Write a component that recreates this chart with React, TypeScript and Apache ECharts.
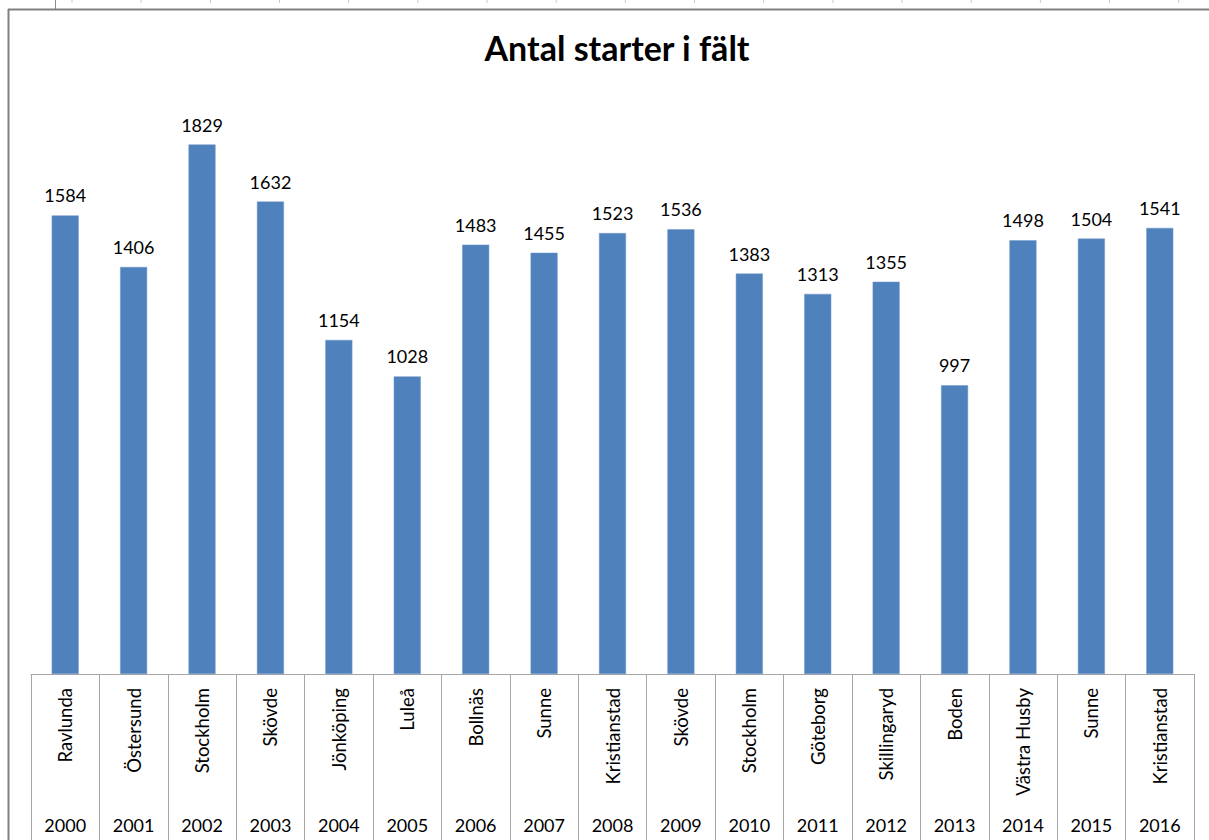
import React, { useEffect, useRef } from "react";
import * as echarts from "echarts";

const cities = [
  "Ravlunda", "Östersund", "Stockholm", "Skövde", "Jönköping", "Luleå", "Bollnäs", "Sunne",
  "Kristianstad", "Skövde", "Stockholm", "Göteborg", "Skillingaryd", "Boden", "Västra Husby", "Sunne", "Kristianstad",
];
const years = [
  "2000", "2001", "2002", "2003", "2004", "2005", "2006", "2007", "2008",
  "2009", "2010", "2011", "2012", "2013", "2014", "2015", "2016",
];
const starts = [1584, 1406, 1829, 1632, 1154, 1028, 1483, 1455, 1523, 1536, 1383, 1313, 1355, 997, 1498, 1504, 1541];
const titleText = "Antal starter i fält";

const FONT = "Lato, 'Open Sans', sans-serif";

export default function App() {
  const ref = useRef<HTMLDivElement>(null);
  useEffect(() => {
    if (!ref.current) return;
    const chart = echarts.init(ref.current, undefined, { renderer: "svg" });
    const gridTicks: any[] = [];
    for (let i = 0; i < 17; i++) {
      const x = 72 + i * 69.17;
      gridTicks.push({
        type: "line",
        shape: { x1: x, y1: 0, x2: x, y2: 3 },
        style: { stroke: "#c8c8c8", lineWidth: 1 },
        silent: true,
      });
    }
    chart.setOption({
      animation: false,
      backgroundColor: "#ffffff",
      textStyle: { fontFamily: FONT },
      title: {
        text: titleText,
        left: 612,
        top: 25,
        textAlign: "center",
        textStyle: { fontFamily: FONT, fontSize: 34, fontWeight: "bold", color: "#000000" },
      },
      grid: { left: 31, right: 15, top: 95, bottom: 166, containLabel: false },
      xAxis: [
        {
          type: "category",
          data: cities,
          position: "bottom",
          axisLine: { show: true, lineStyle: { color: "#a6a6a6", width: 1 } },
          axisTick: { show: true, interval: 0, length: 175, lineStyle: { color: "#a6a6a6", width: 1 } },
          axisLabel: { interval: 0, rotate: 90, margin: 14, fontSize: 18.5, color: "#000000", fontFamily: FONT },
        },
        {
          type: "category",
          data: years,
          position: "bottom",
          offset: 0,
          axisLine: { show: false },
          axisTick: { show: false },
          axisLabel: { interval: 0, margin: 142, fontSize: 18, color: "#000000", fontFamily: FONT },
        },
      ],
      yAxis: { type: "value", min: 0, max: 2000, show: false, splitLine: { show: false } },
      series: [
        {
          type: "bar",
          data: starts,
          barWidth: 27,
          itemStyle: { color: "#4f81bd", borderColor: "#6e97c8", borderWidth: 0.5 },
          label: { show: true, position: "top", distance: 11, fontSize: 18, color: "#000000", fontFamily: FONT },
        },
      ],
      graphic: [
        ...gridTicks,
        { type: "line", shape: { x1: 55.5, y1: 0, x2: 55.5, y2: 9 }, style: { stroke: "#8a8a8a", lineWidth: 1 }, silent: true },
        { type: "line", shape: { x1: 8, y1: 9.5, x2: 1209, y2: 9.5 }, style: { stroke: "#808080", lineWidth: 2 }, silent: true },
        { type: "line", shape: { x1: 8.5, y1: 9, x2: 8.5, y2: 840 }, style: { stroke: "#808080", lineWidth: 2 }, silent: true },
      ],
    });
    return () => chart.dispose();
  }, []);
  return (
    <div
      ref={ref}
      style={{ position: "absolute", left: 0, top: 0, width: 1209, height: 840 }}
    />
  );
}
